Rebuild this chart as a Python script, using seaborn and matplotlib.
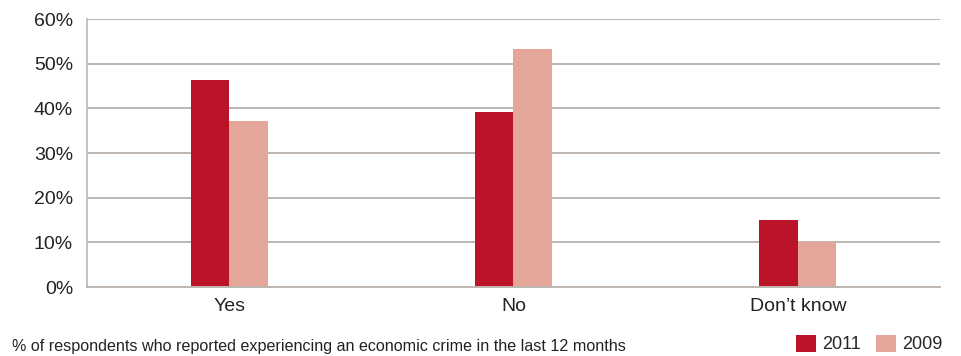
import matplotlib
matplotlib.use("Agg")
import matplotlib.pyplot as plt
import seaborn as sns
import pandas as pd
from matplotlib.patches import Patch
from matplotlib.ticker import FixedLocator, FuncFormatter

categories = ["Yes", "No", "Don\u2019t know"]
years = ["2011", "2009"]
values_2011 = [46.3, 39.2, 15.0]
values_2009 = [37.1, 53.2, 10.0]
y_ticks = [0, 10, 20, 30, 40, 50, 60]
caption = "% of respondents who reported experiencing an economic crime in the last 12 months"

colors = {"2011": "#BB1428", "2009": "#E3A699"}

df = pd.DataFrame({
    "category": categories * 2,
    "year": [years[0]] * 3 + [years[1]] * 3,
    "value": values_2011 + values_2009,
})

sns.set_style("white")
plt.rcParams["font.family"] = ["Liberation Sans", "DejaVu Sans"]

fig = plt.figure(figsize=(9.61, 3.56), dpi=100)
ax = fig.add_axes([87 / 961, 1 - 287 / 356, (940 - 87) / 961, (287 - 19) / 356])

sns.barplot(data=df, x="category", y="value", hue="year", order=categories,
            hue_order=years, palette=colors, width=0.27, gap=0,
            saturation=1, edgecolor="none", linewidth=0, legend=False, ax=ax)

ax.set_ylim(0, 60)
ax.set_xlim(-0.5, 2.5)
ax.yaxis.set_major_locator(FixedLocator(y_ticks))
ax.yaxis.set_major_formatter(FuncFormatter(lambda v, p: f"{int(v)}%"))
ax.grid(axis="y", color="#BDB5B0", linewidth=1.4)
ax.set_axisbelow(True)
ax.set_xlabel("")
ax.set_ylabel("")

for s in ["top", "right"]:
    ax.spines[s].set_visible(False)
ax.spines["left"].set_color("#BDB5B0")
ax.spines["left"].set_linewidth(1.2)
ax.spines["bottom"].set_color("#BDB5B0")
ax.spines["bottom"].set_linewidth(1.4)

ax.tick_params(axis="y", length=0, labelsize=14, colors="#222222", pad=10)
ax.tick_params(axis="x", length=0, labelsize=14, colors="#222222", pad=8)
ax.set_xticks([0.5, 1.5], minor=True)
ax.tick_params(axis="x", which="minor", length=4, color="#BDB5B0", width=1)

fig.text(12 / 961, 1 - 346 / 356, caption, fontsize=11.6, color="#222222",
         va="center", ha="left")

handles = [Patch(facecolor=colors[y], edgecolor="none") for y in years]
fig.legend(handles, years, loc="center right", bbox_to_anchor=(950 / 961, 1 - 344 / 356),
           ncol=2, frameon=False, fontsize=13, handlelength=1.1, handleheight=1.1,
           handletextpad=0.35, columnspacing=0.85, borderaxespad=0)

fig.savefig("out.png", dpi=100)
